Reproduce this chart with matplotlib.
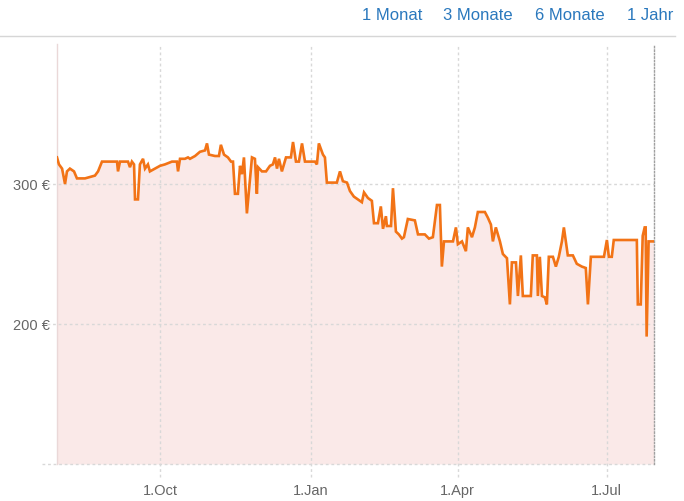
import pandas as pd
import matplotlib.pyplot as plt
from matplotlib.lines import Line2D

plt.rcParams["font.family"] = ["Liberation Sans", "DejaVu Sans"]

# price history, days counted from the first day of the range
start_date = pd.Timestamp("2018-07-30")
end_date = pd.Timestamp("2019-07-30")

days = [
    0, 1.2, 3.1, 4.9, 6.1, 7.9, 10.4, 12.2, 17.1, 20.2, 23.2, 25.1, 27.5, 31.2,
    34.2, 36.7, 37.3, 38.5, 43.4, 44.6, 45.8, 47.1, 47.7, 49.5, 50.7, 52.6, 53.8,
    55.6, 56.8, 59.9, 63.0, 66.0, 70.3, 73.3, 74.0, 75.2, 78.2, 80.1, 81.3, 84.4,
    87.4, 90.5, 91.7, 92.9, 96.6, 99.0, 100.2, 102.1, 104.5, 106.4, 107.6, 108.8,
    110.6, 111.9, 113.1, 114.3, 116.1, 119.2, 121.0, 122.2, 122.9, 125.3, 127.8,
    130.2, 132.0, 133.3, 134.5, 135.7, 137.5, 140.0, 143.0, 144.3, 146.1, 147.9,
    149.8, 151.6, 157.7, 158.9, 160.1, 162.6, 163.8, 165.0, 171.1, 173.0, 174.8,
    177.3, 179.1, 181.5, 184.0, 186.4, 187.7, 190.1, 192.5, 193.8, 196.2, 198.0,
    199.3, 201.1, 201.7, 204.2, 205.4, 207.2, 209.0, 210.9, 212.1, 214.5, 218.8,
    220.7, 224.9, 227.4, 229.8, 232.3, 234.1, 235.3, 236.6, 242.1, 243.9, 245.1,
    247.6, 250.0, 251.2, 253.7, 255.5, 257.3, 261.6, 263.4, 265.3, 266.5, 268.3,
    270.8, 272.6, 275.1, 276.9, 278.1, 280.6, 281.8, 283.6, 284.8, 289.7, 290.9,
    293.4, 294.0, 295.2, 296.5, 298.3, 299.5, 300.7, 303.2, 305.0, 306.8, 308.7,
    309.9, 311.1, 312.3, 315.4, 317.8, 320.9, 323.3, 324.6, 326.4, 334.4, 336.2,
    337.4, 339.2, 340.4, 354.5, 355.1, 356.9, 358.1, 359.3, 359.9, 360.5, 361.7,
    364.9,
]
prices = [
    319, 314, 311, 300, 309, 311, 309, 304, 304, 305, 306, 309, 316, 316,
    316, 316, 309, 316, 316, 312, 316, 314, 289, 289, 314, 318, 311,
    314, 309, 311, 313, 314, 316, 316, 309, 318, 318, 319, 318, 320,
    323, 324, 329, 321, 320, 320, 328, 321, 319, 316, 316, 293,
    293, 313, 307, 319, 279, 319, 318, 293, 312, 309, 309,
    313, 314, 319, 311, 318, 309, 319, 319, 330, 316, 316,
    329, 316, 316, 314, 329, 321, 319, 301, 301, 309, 302,
    301, 295, 291, 289, 287, 294, 290, 288, 272, 272, 284,
    268, 277, 270, 270, 297, 266, 264, 261, 262, 275, 274,
    264, 264, 261, 262, 285, 285, 241, 259, 259, 269,
    257, 259, 252, 269, 262, 269, 280, 280, 276, 271, 259,
    269, 259, 250, 247, 214, 244, 244, 220, 249, 220, 220,
    249, 249, 220, 248, 220, 219, 214, 248, 248, 241, 248,
    259, 269, 259, 249, 249, 243, 241, 240, 214, 248, 248,
    260, 248, 248, 260, 260, 214, 214, 263, 269, 269, 191, 259,
    259,
]

y_ticks = [200, 300]
y_labels = ["200 €", "300 €"]
x_ticks = ["2018-10-01", "2019-01-01", "2019-04-01", "2019-07-01"]
x_labels = ["1.Oct", "1.Jan", "1.Apr", "1.Jul"]
ranges = ["1 Monat", "3 Monate", "6 Monate", "1 Jahr"]

dates = start_date + pd.to_timedelta(days, unit="D")

W, H = 684, 502
fig = plt.figure(figsize=(W / 100, H / 100), dpi=100)
ax = fig.add_axes([57 / W, 1 - 465 / H, 597 / W, 420 / H])

ax.fill_between(dates, prices, 100, color="#fae9e8", lw=0, zorder=1)
ax.plot(dates, prices, color="#f27316", lw=1.9, solid_joinstyle="miter", zorder=3)

ax.set_xlim(start_date, end_date)
ax.set_ylim(100, 400)

grid_kw = dict(color="#d8d8d8", lw=1, ls=(0, (2, 2)), zorder=2, clip_on=False)
for v in y_ticks:
    ax.axhline(v, xmin=-0.017, xmax=1, **grid_kw)
ax.axhline(100, xmin=-0.025, xmax=1, **grid_kw)
for d in x_ticks:
    ax.axvline(pd.Timestamp(d), ymin=-0.03, ymax=1, **grid_kw)

ax.set_yticks(y_ticks)
ax.set_yticklabels(y_labels)
ax.set_xticks([pd.Timestamp(d) for d in x_ticks])
ax.set_xticklabels(x_labels)
ax.tick_params(axis="both", length=0, labelsize=10.5, labelcolor="#666666")
ax.tick_params(axis="y", pad=5)
ax.tick_params(axis="x", pad=14)

for side in ["top", "bottom"]:
    ax.spines[side].set_visible(False)
ax.spines["left"].set_color("#ead8d8")
ax.spines["left"].set_linewidth(1)
ax.spines["right"].set_color("#a0a0a0")
ax.spines["right"].set_linestyle((0, (1, 1.5)))
ax.spines["right"].set_linewidth(1)
ax.set_facecolor("white")

# range selector and separator line above the plot
fig.add_artist(Line2D([0, 675 / W], [1 - 37 / H, 1 - 37 / H], color="#d6d6d6", lw=1))
for label, cx in zip(ranges, [392, 478, 570, 650]):
    fig.text(cx / W, 1 - 16 / H, label, ha="center", va="center",
             fontsize=12, color="#2a78bd")

fig.savefig("out.png", dpi=100)
